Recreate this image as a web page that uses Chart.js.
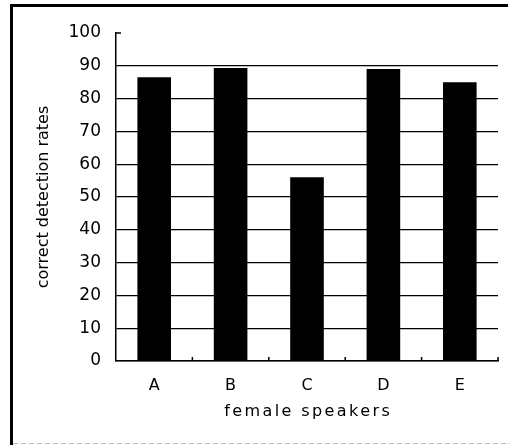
<!DOCTYPE html>
<html>
<head>
<meta charset="utf-8">
<script src="https://cdn.jsdelivr.net/npm/chart.js@4"></script>
<style>
  body { margin: 0; background: #fff; overflow: hidden; }
  canvas { display: block; }
</style>
</head>
<body>
<canvas id="chart" width="510" height="445"></canvas>
<script>
// data
var speakers = ['A', 'B', 'C', 'D', 'E'];
var detectionRates = [86.5, 89.3, 56, 89, 85];
var yTicks = [0, 10, 20, 30, 40, 50, 60, 70, 80, 90, 100];
var xTitle = 'female speakers';

var FONT = 'DejaVu Sans, Verdana, sans-serif';

// outer box of the figure: thick left and top edge, faint dashed bottom
var figureFrame = {
  id: 'figureFrame',
  beforeDraw: function(chart) {
    var ctx = chart.ctx;
    ctx.save();
    ctx.fillStyle = '#000';
    ctx.fillRect(10, 4, 3, chart.height - 4);
    ctx.fillRect(10, 4, chart.width - 12, 3);
    ctx.strokeStyle = '#bbb';
    ctx.lineWidth = 1;
    ctx.setLineDash([5, 3]);
    ctx.beginPath();
    ctx.moveTo(13, chart.height - 1.5);
    ctx.lineTo(chart.width, chart.height - 1.5);
    ctx.stroke();
    ctx.restore();
  }
};

// small inward ticks (top of y axis, category boundaries on x axis)
// and the widely spaced x axis title
var innerTicks = {
  id: 'innerTicks',
  afterDatasetsDraw: function(chart) {
    var ctx = chart.ctx;
    var x = chart.scales.x, y = chart.scales.y;
    var area = chart.chartArea;
    ctx.save();
    ctx.strokeStyle = '#000';
    ctx.lineWidth = 1.5;
    ctx.beginPath();
    var top = y.getPixelForValue(100);
    ctx.moveTo(area.left, top);
    ctx.lineTo(area.left + 5, top);
    var half = (x.getPixelForValue(1) - x.getPixelForValue(0)) / 2;
    for (var i = 0; i < speakers.length; i++) {
      var bx = x.getPixelForValue(i) + half;
      ctx.moveTo(bx, area.bottom);
      ctx.lineTo(bx, area.bottom - 4);
    }
    ctx.stroke();
    ctx.restore();
  },
  afterDraw: function(chart) {
    var ctx = chart.ctx;
    var area = chart.chartArea;
    var spacing = 2.4;
    var cx = (area.left + area.right) / 2;
    var cy = 412;
    ctx.save();
    ctx.font = '16px ' + FONT;
    ctx.fillStyle = '#000';
    ctx.textBaseline = 'middle';
    ctx.textAlign = 'left';
    if ('letterSpacing' in ctx) {
      ctx.letterSpacing = spacing + 'px';
      var w = ctx.measureText(xTitle).width;
      ctx.fillText(xTitle, cx - (w - spacing) / 2, cy);
    } else {
      var total = ctx.measureText(xTitle).width + spacing * (xTitle.length - 1);
      var px = cx - total / 2;
      for (var k = 0; k < xTitle.length; k++) {
        ctx.fillText(xTitle[k], px, cy);
        px += ctx.measureText(xTitle[k]).width + spacing;
      }
    }
    ctx.restore();
  }
};

new Chart(document.getElementById('chart'), {
  type: 'bar',
  data: {
    labels: speakers,
    datasets: [{
      data: detectionRates,
      backgroundColor: '#000',
      borderWidth: 0,
      categoryPercentage: 1,
      barPercentage: 0.44
    }]
  },
  options: {
    responsive: false,
    animation: false,
    events: [],
    layout: { padding: { top: 33, right: 12, left: 0, bottom: 0 } },
    plugins: { legend: { display: false }, tooltip: { enabled: false } },
    scales: {
      x: {
        grid: { display: false },
        border: { display: true, color: '#000', width: 1.5 },
        ticks: { color: '#000', padding: 7, font: { family: FONT, size: 16 } },
        afterFit: function(s) { s.height = 84; }
      },
      y: {
        min: 0, max: 100,
        afterBuildTicks: function(s) { s.ticks = yTicks.map(function(v) { return { value: v }; }); },
        grid: {
          drawTicks: false,
          color: function(c) { return c.tick && c.tick.value === 100 ? 'rgba(0,0,0,0)' : '#000'; },
          lineWidth: 1.3
        },
        border: { display: true, color: '#000', width: 1.5 },
        ticks: { color: '#000', padding: 15, font: { family: FONT, size: 17 } },
        title: {
          display: true, text: 'correct detection rates', color: '#000',
          font: { family: FONT, size: 16 }, padding: { top: 34, bottom: 0 }
        },
        afterFit: function(s) { s.width = 116; }
      }
    }
  },
  plugins: [figureFrame, innerTicks]
});
</script>
</body>
</html>
